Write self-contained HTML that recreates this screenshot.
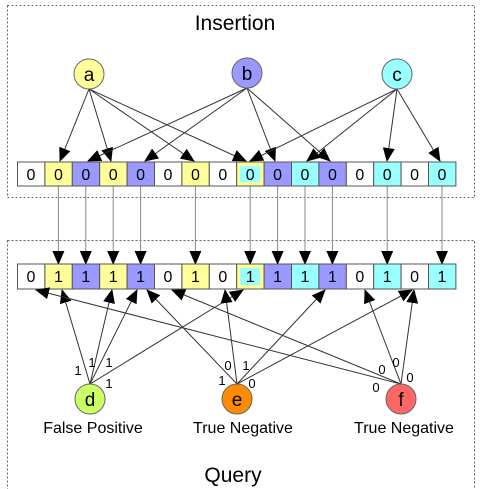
<!DOCTYPE html><html><head><style>body{margin:0;background:#fff}svg{display:block}</style></head><body>
<svg width="480" height="489" viewBox="0 0 480 489" xmlns="http://www.w3.org/2000/svg" font-family="Liberation Sans, sans-serif">
<defs><marker id="ah2" markerWidth="14" markerHeight="14" refX="13" refY="7" orient="auto" markerUnits="userSpaceOnUse"><path d="M0,1 L14,7 L0,13 z" fill="#000"/></marker></defs>
<rect x="7.5" y="5.5" width="467" height="192" fill="none" stroke="#666" stroke-dasharray="2,2"/>
<rect x="7.5" y="240.5" width="467" height="260" fill="none" stroke="#666" stroke-dasharray="2,2"/>
<text x="235" y="30" font-size="21" text-anchor="middle">Insertion</text>
<text x="233" y="482" font-size="21" text-anchor="middle">Query</text>
<g stroke="#333" stroke-width="1" marker-end="url(#ah2)">
<line x1="89" y1="89" x2="60" y2="161"/><line x1="89" y1="89" x2="111" y2="161"/><line x1="89" y1="89" x2="194" y2="161"/><line x1="89" y1="89" x2="246" y2="161"/>
<line x1="247" y1="88" x2="88" y2="161"/><line x1="247" y1="88" x2="145" y2="161"/><line x1="247" y1="88" x2="275" y2="161"/><line x1="247" y1="88" x2="330" y2="161"/>
<line x1="397" y1="89" x2="250" y2="161"/><line x1="397" y1="89" x2="307" y2="161"/><line x1="397" y1="89" x2="387" y2="161"/><line x1="397" y1="89" x2="440" y2="161"/>
</g>
<g stroke="#888" stroke-width="1" marker-end="url(#ah2)">
<line x1="58.4" y1="186" x2="58.4" y2="264"/><line x1="85.8" y1="186" x2="85.8" y2="264"/><line x1="113.2" y1="186" x2="113.2" y2="264"/><line x1="140.6" y1="186" x2="140.6" y2="264"/><line x1="195.4" y1="186" x2="195.4" y2="264"/><line x1="250.2" y1="186" x2="250.2" y2="264"/><line x1="277.6" y1="186" x2="277.6" y2="264"/><line x1="305" y1="186" x2="305" y2="264"/><line x1="332.4" y1="186" x2="332.4" y2="264"/><line x1="387.2" y1="186" x2="387.2" y2="264"/><line x1="442" y1="186" x2="442" y2="264"/>
</g>
<g stroke="#555" stroke-width="1">
<rect x="17.5" y="162" width="27.4" height="24" fill="#fff"/><rect x="44.9" y="162" width="27.4" height="24" fill="#ffff99"/><rect x="72.3" y="162" width="27.4" height="24" fill="#9999ff"/><rect x="99.7" y="162" width="27.4" height="24" fill="#ffff99"/><rect x="127.1" y="162" width="27.4" height="24" fill="#9999ff"/><rect x="154.5" y="162" width="27.4" height="24" fill="#fff"/><rect x="181.9" y="162" width="27.4" height="24" fill="#ffff99"/><rect x="209.3" y="162" width="27.4" height="24" fill="#fff"/><rect x="236.7" y="162" width="27.4" height="24" fill="#ffff99"/><rect x="264.1" y="162" width="27.4" height="24" fill="#9999ff"/><rect x="291.5" y="162" width="27.4" height="24" fill="#99ffff"/><rect x="318.9" y="162" width="27.4" height="24" fill="#9999ff"/><rect x="346.3" y="162" width="27.4" height="24" fill="#fff"/><rect x="373.7" y="162" width="27.4" height="24" fill="#99ffff"/><rect x="401.1" y="162" width="27.4" height="24" fill="#fff"/><rect x="428.5" y="162" width="27.4" height="24" fill="#99ffff"/>
<rect x="17.5" y="264" width="27.4" height="25" fill="#fff"/><rect x="44.9" y="264" width="27.4" height="25" fill="#ffff99"/><rect x="72.3" y="264" width="27.4" height="25" fill="#9999ff"/><rect x="99.7" y="264" width="27.4" height="25" fill="#ffff99"/><rect x="127.1" y="264" width="27.4" height="25" fill="#9999ff"/><rect x="154.5" y="264" width="27.4" height="25" fill="#fff"/><rect x="181.9" y="264" width="27.4" height="25" fill="#ffff99"/><rect x="209.3" y="264" width="27.4" height="25" fill="#fff"/><rect x="236.7" y="264" width="27.4" height="25" fill="#ffff99"/><rect x="264.1" y="264" width="27.4" height="25" fill="#9999ff"/><rect x="291.5" y="264" width="27.4" height="25" fill="#99ffff"/><rect x="318.9" y="264" width="27.4" height="25" fill="#9999ff"/><rect x="346.3" y="264" width="27.4" height="25" fill="#fff"/><rect x="373.7" y="264" width="27.4" height="25" fill="#99ffff"/><rect x="401.1" y="264" width="27.4" height="25" fill="#fff"/><rect x="428.5" y="264" width="27.4" height="25" fill="#99ffff"/>
</g>
<rect x="240" y="166" width="20" height="16" fill="#99ffff"/><rect x="240" y="268" width="20" height="17" fill="#99ffff"/>
<g font-size="16" text-anchor="middle">
<text x="31" y="180">0</text><text x="58.4" y="180">0</text><text x="85.8" y="180">0</text><text x="113.2" y="180">0</text><text x="140.6" y="180">0</text><text x="168" y="180">0</text><text x="195.4" y="180">0</text><text x="222.8" y="180">0</text><text x="250.2" y="180">0</text><text x="277.6" y="180">0</text><text x="305" y="180">0</text><text x="332.4" y="180">0</text><text x="359.8" y="180">0</text><text x="387.2" y="180">0</text><text x="414.6" y="180">0</text><text x="442" y="180">0</text>
<text x="31" y="282">0</text><text x="58.4" y="282">1</text><text x="85.8" y="282">1</text><text x="113.2" y="282">1</text><text x="140.6" y="282">1</text><text x="168" y="282">0</text><text x="195.4" y="282">1</text><text x="222.8" y="282">0</text><text x="250.2" y="282">1</text><text x="277.6" y="282">1</text><text x="305" y="282">1</text><text x="332.4" y="282">1</text><text x="359.8" y="282">0</text><text x="387.2" y="282">1</text><text x="414.6" y="282">0</text><text x="442" y="282">1</text>
</g>
<g stroke="#333" stroke-width="1" marker-end="url(#ah2)">
<line x1="90" y1="384" x2="62" y2="290"/><line x1="90" y1="384" x2="112" y2="290"/><line x1="90" y1="384" x2="137" y2="290"/><line x1="90" y1="384" x2="243" y2="290"/>
<line x1="237" y1="384" x2="147" y2="290"/><line x1="237" y1="384" x2="225" y2="290"/><line x1="237" y1="384" x2="325" y2="290"/><line x1="237" y1="384" x2="412" y2="290"/>
<line x1="401" y1="384" x2="365" y2="290"/><line x1="401" y1="384" x2="414" y2="290"/><line x1="401" y1="384" x2="36" y2="290"/><line x1="401" y1="384" x2="172" y2="290"/>
</g>
<g stroke="#666" stroke-width="1">
<circle cx="89" cy="74" r="15" fill="#ffff99"/><circle cx="247" cy="73" r="15" fill="#9999ff"/><circle cx="397" cy="74" r="15" fill="#99ffff"/>
<circle cx="90" cy="399" r="15" fill="#ccff66"/><circle cx="237" cy="399" r="15" fill="#ff8c00"/><circle cx="401" cy="399" r="15" fill="#ff6666"/>
</g>
<g font-size="19" text-anchor="middle">
<text x="89" y="81">a</text><text x="247" y="80">b</text><text x="397" y="81">c</text>
<text x="90" y="406">d</text><text x="237" y="406">e</text><text x="401" y="406">f</text>
</g>
<g font-size="16" text-anchor="middle">
<text x="93" y="433">False Positive</text><text x="243" y="433">True Negative</text><text x="404" y="433">True Negative</text>
</g>
<g font-size="13" text-anchor="middle">
<text x="78" y="375">1</text><text x="92" y="367">1</text><text x="109" y="367">1</text><text x="109" y="388">1</text>
<text x="222" y="385">1</text><text x="228" y="370">0</text><text x="246" y="370">1</text><text x="252" y="388">0</text>
<text x="376" y="392">0</text><text x="382" y="374">0</text><text x="396" y="367">0</text><text x="410" y="382">0</text>
</g>
</svg></body></html>
